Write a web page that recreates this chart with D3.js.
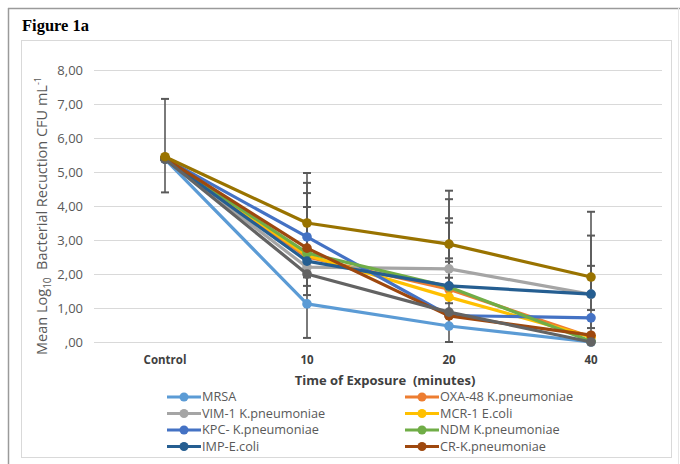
<!DOCTYPE html>
<html><head><meta charset="utf-8">
<script src="https://cdn.jsdelivr.net/npm/d3@7"></script>
<style>
html,body{margin:0;padding:0;background:#fff;}
svg{display:block;font-family:"Open Sans",sans-serif;}
</style></head>
<body><svg id="chart" width="680" height="464"></svg>
<script>
// ---- data ----
const categories = ["Control", "10", "20", "40"];
const yTicks = [0, 1, 2, 3, 4, 5, 6, 7, 8];
const seriesNames = ["MRSA", "OXA-48 K.pneumoniae", "VIM-1 K.pneumoniae", "MCR-1 E.coli",
  "KPC- K.pneumoniae", "NDM K.pneumoniae", "IMP-E.coli", "CR-K.pneumoniae", "Series 9", "Series 10"];
const legendCount = 8;
const seriesColors = ["#5B9BD5", "#ED7D31", "#A5A5A5", "#FFC000", "#4472C4", "#70AD47",
  "#255E91", "#9E480E", "#636363", "#997300"];
const mrsa   = [5.38, 1.12, 0.47, 0.00];
const oxa48  = [5.40, 2.50, 1.55, 0.15];
const vim1   = [5.38, 2.20, 2.15, 1.40];
const mcr1   = [5.40, 2.55, 1.32, 0.15];
const kpc    = [5.40, 3.09, 0.78, 0.71];
const ndm    = [5.40, 2.62, 1.62, 0.02];
const imp    = [5.38, 2.38, 1.65, 1.41];
const crk    = [5.40, 2.76, 0.77, 0.20];
const series9  = [5.38, 2.00, 0.88, 0.00];
const series10 = [5.45, 3.50, 2.88, 1.91];
const seriesValues = [mrsa, oxa48, vim1, mcr1, kpc, ndm, imp, crk, series9, series10];
// error bars (upper / lower extent) per series
const errUp = [
  [0, 0, 0, 0], [0, 0, 0.81, 0], [0, 0, 2.05, 0.84], [0, 2.42, 1.14, 0],
  [0, 1.59, 0, 0], [0, 0, 1.89, 0], [0, 2.00, 1.99, 1.72], [0, 0, 0, 0],
  [0, 0, 0, 0], [1.70, 0.47, 1.57, 1.92]];
const errDown = [
  [0, 0, 0, 0], [0, 0, 0, 0], [0, 0, 2.15, 0], [0, 2.43, 0, 0],
  [0, 1.44, 0, 0.30], [0, 0, 0, 0], [0, 1.00, 0.51, 1.41], [0, 0, 0, 0],
  [0, 0, 0, 0], [1.05, 1.60, 0.99, 0.97]];

// ---- layout ----
const svg = d3.select("#chart");
const plot = {left: 94, right: 662, top: 70, bottom: 342};
const x = d3.scaleBand().domain(categories).range([plot.left, plot.right]);
const y = d3.scaleLinear().domain([0, 8]).range([plot.bottom, plot.top]);
const cx = c => x(c) + x.bandwidth() / 2;

// frame
svg.append("line").attr("x1", 8.5).attr("x2", 8.5).attr("y1", 8).attr("y2", 464).attr("stroke", "#9a9a9a").attr("stroke-width", 1.5);
svg.append("line").attr("x1", 8).attr("x2", 680).attr("y1", 8.5).attr("y2", 8.5).attr("stroke", "#9a9a9a").attr("stroke-width", 1.5);
svg.append("line").attr("x1", 678.5).attr("x2", 678.5).attr("y1", 8).attr("y2", 464).attr("stroke", "#e6e6e6").attr("stroke-width", 1);
svg.append("rect").attr("x", 21.5).attr("y", 40.5).attr("width", 650).attr("height", 417)
  .attr("fill", "none").attr("stroke", "#d9d9d9").attr("stroke-width", 1);

svg.append("text").attr("x", 22).attr("y", 31).text("Figure 1a")
  .attr("font-family", "'Liberation Serif','Times New Roman',serif").attr("font-weight", "bold")
  .attr("font-size", 16.5).attr("fill", "#000");

// y axis (gridlines + labels)
const yAxis = d3.axisLeft(y).tickValues(yTicks).tickSize(-(plot.right - plot.left)).tickPadding(11)
  .tickFormat(d => d === 0 ? ",00" : d3.format(".2f")(d).replace(".", ","));
const gy = svg.append("g").attr("transform", `translate(${plot.left},0)`).call(yAxis);
gy.select(".domain").remove();
gy.selectAll(".tick line").attr("stroke", "#d9d9d9").attr("stroke-width", 1.2);
gy.selectAll(".tick text").attr("fill", "#595959").attr("font-size", 13).attr("font-family", "'Open Sans',sans-serif");

// x axis labels
const xAxis = d3.axisBottom(x).tickSize(0).tickPadding(14);
const gx = svg.append("g").attr("transform", `translate(0,${plot.bottom})`).call(xAxis);
gx.select(".domain").remove();
gx.selectAll(".tick text").attr("fill", "#404040").attr("font-size", 11.5).attr("font-weight", "bold")
  .attr("font-family", "'Open Sans',sans-serif");

// axis titles
svg.append("text").attr("x", 385).attr("y", 385).attr("text-anchor", "middle")
  .attr("font-size", 13).attr("font-weight", "bold").attr("fill", "#404040")
  .attr("xml:space", "preserve").style("white-space", "pre").text("Time of Exposure  (minutes)");
const yt = svg.append("text").attr("transform", "translate(47,216) rotate(-90)").attr("text-anchor", "middle")
  .attr("font-size", 14.5).attr("fill", "#595959");
yt.append("tspan").text("Mean Log");
yt.append("tspan").attr("font-size", 10).attr("dy", 4).text("10");
yt.append("tspan").attr("dy", -4).text("  Bacterial Recuction CFU mL").style("white-space", "pre");
yt.append("tspan").attr("font-size", 9).attr("dy", -6).text("-1");

// error bars
const eg = svg.append("g");
seriesValues.forEach((vals, si) => {
  vals.forEach((v, ci) => {
    const up = errUp[si][ci], dn = errDown[si][ci];
    if (!up && !dn) return;
    const xc = cx(categories[ci]);
    const y1 = y(v + up), y2 = y(v - dn);
    eg.append("line").attr("x1", xc).attr("x2", xc).attr("y1", y1).attr("y2", y2)
      .attr("stroke", "#595959").attr("stroke-width", 1.6);
    [[up, y1], [dn, y2]].forEach(([e, yy]) => {
      if (!e) return;
      eg.append("line").attr("x1", xc - 4).attr("x2", xc + 4).attr("y1", yy).attr("y2", yy)
        .attr("stroke", "#595959").attr("stroke-width", 2);
    });
  });
});

// lines + markers
const line = d3.line().x((d, i) => cx(categories[i])).y(d => y(d));
seriesValues.forEach((vals, si) => {
  const g = svg.append("g");
  g.append("path").datum(vals).attr("d", line).attr("fill", "none")
    .attr("stroke", seriesColors[si]).attr("stroke-width", 3.2).attr("stroke-linejoin", "round");
  g.selectAll("circle").data(vals).join("circle")
    .attr("cx", (d, i) => cx(categories[i])).attr("cy", d => y(d)).attr("r", 4.8)
    .attr("fill", seriesColors[si]);
});

// legend
const legX = [167, 405], legY = [397, 413.5, 430, 446.5];
for (let i = 0; i < legendCount; i++) {
  const col = i % 2, row = Math.floor(i / 2);
  const g = svg.append("g").attr("transform", `translate(${legX[col]},${legY[row]})`);
  g.append("line").attr("x1", 0).attr("x2", 34).attr("stroke", seriesColors[i]).attr("stroke-width", 3.2);
  g.append("circle").attr("cx", 17).attr("r", 4.5).attr("fill", seriesColors[i]);
  g.append("text").attr("x", 35).attr("dy", "0.35em").attr("font-size", 12.7).attr("fill", "#595959")
    .text(seriesNames[i]);
}
</script></body></html>
